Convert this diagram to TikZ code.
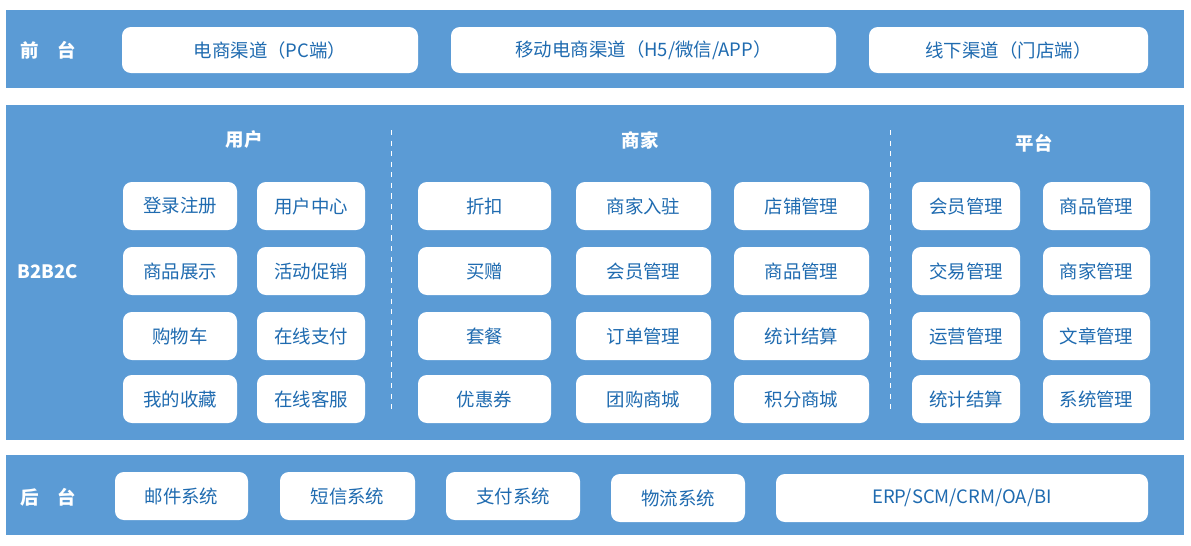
\documentclass[tikz,border=0pt]{standalone}
\usepackage{fontspec}
\setmainfont{Noto Sans CJK SC}
\usetikzlibrary{positioning}
\definecolor{bandblue}{HTML}{5B9BD5}
\definecolor{textblue}{HTML}{1F6BB0}
\tikzset{
  band/.style={fill=bandblue, draw=none},
  item/.style={fill=white, rounded corners=5pt, text=textblue, font=\fontsize{10.5}{12}\selectfont},
  label/.style={text=white, font=\bfseries\fontsize{10.5}{12}\selectfont},
}
% box from (x1,y1) to (x2,y2) in pixels
\newcommand{\itembox}[6]{\node[item, minimum width={(#3-#1)*0.02cm}, minimum height={(#4-#2)*0.02cm}, inner sep=0pt] (#5) at ({(#1+#3)/2},{(#2+#4)/2}) {#6};}
\begin{document}
\begin{tikzpicture}[x=0.02cm, y=-0.02cm]
    \useasboundingbox (0,0) rectangle (1191,545);

    % Bands
    \path[band] (6,10) rectangle (1184,88);
    \path[band] (6,105) rectangle (1184,440);
    \path[band] (6,455) rectangle (1184,535);

    % Band labels
    \node[label] (front) at (48,50) {前\quad 台};
    \node[label] (mid) at (48,272) {B2B2C};
    \node[label] (back) at (48,497) {后\quad 台};

    % Front channels
    \itembox{122}{27}{418}{73}{pc}{电商渠道（PC端）}
    \itembox{451}{27}{836}{73}{mob}{移动电商渠道（H5/微信/APP）}
    \itembox{869}{27}{1148}{73}{off}{线下渠道（门店端）}

    % Column headers and separators
    \node[label] (huser) at (244,140) {用户};
    \node[label] (hshop) at (640,140) {商家};
    \node[label] (hplat) at (1034,143) {平台};
    \draw[white, dashed, thin] (391,130) -- (391,412);
    \draw[white, dashed, thin] (890,130) -- (890,412);

    % User column
    \foreach \ya/\yb/\a/\b [count=\i] in {182/230/登录注册/用户中心, 247/295/商品展示/活动促销,
        312/360/购物车/在线支付, 375/423/我的收藏/在线客服}{
      \itembox{123}{\ya}{237}{\yb}{ua\i}{\a}
      \itembox{257}{\ya}{365}{\yb}{ub\i}{\b}
    }

    % Merchant column
    \foreach \ya/\yb/\a/\b/\c [count=\i] in {182/230/折扣/商家入驻/店铺管理, 247/295/买赠/会员管理/商品管理,
        312/360/套餐/订单管理/统计结算, 375/423/优惠券/团购商城/积分商城}{
      \itembox{418}{\ya}{551}{\yb}{sa\i}{\a}
      \itembox{576}{\ya}{711}{\yb}{sb\i}{\b}
      \itembox{734}{\ya}{869}{\yb}{sc\i}{\c}
    }

    % Platform column
    \foreach \ya/\yb/\a/\b [count=\i] in {182/230/会员管理/商品管理, 247/295/交易管理/商家管理,
        312/360/运营管理/文章管理, 375/423/统计结算/系统管理}{
      \itembox{912}{\ya}{1020}{\yb}{pa\i}{\a}
      \itembox{1043}{\ya}{1150}{\yb}{pb\i}{\b}
    }

    % Back-end systems
    \itembox{115}{472}{248}{520}{mail}{邮件系统}
    \itembox{280}{472}{415}{520}{sms}{短信系统}
    \itembox{446}{472}{580}{520}{pay}{支付系统}
    \itembox{611}{474}{745}{522}{ship}{物流系统}
    \itembox{776}{474}{1148}{522}{erp}{ERP/SCM/CRM/OA/BI}

\end{tikzpicture}
\end{document}
